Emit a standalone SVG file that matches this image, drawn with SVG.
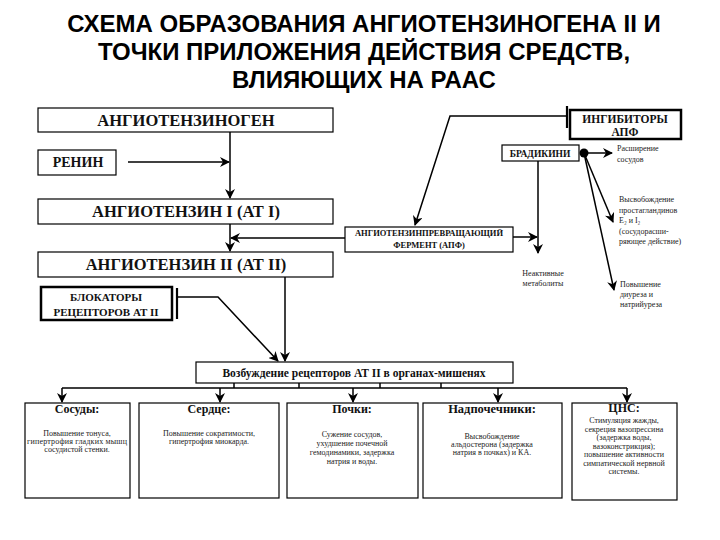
<svg xmlns="http://www.w3.org/2000/svg" width="720" height="540" viewBox="0 0 720 540">
<style>
.title{font-family:"Liberation Sans",Arial,sans-serif;font-weight:bold;font-size:24px;fill:#000;text-anchor:middle}
.bx{fill:#fff;stroke:#000;stroke-width:1.2}
.thick{fill:#fff;stroke:#000;stroke-width:2.5}
.lbl{font-family:"Liberation Serif","Times New Roman",serif;font-weight:bold;fill:#111;text-anchor:middle}
.sm{font-family:"Liberation Serif","Times New Roman",serif;font-size:8px;fill:#222}
.ctr{text-anchor:middle}
.ln{fill:none;stroke:#000;stroke-width:1.5}
.tb{fill:none;stroke:#000;stroke-width:2.2}
</style>
<defs>
<marker id="ah" viewBox="0 0 10 10" refX="9" refY="5" markerWidth="10" markerHeight="10" markerUnits="userSpaceOnUse" orient="auto">
<path d="M0,0 L10,5 L0,10 L3,5 z" fill="#000"/>
</marker>
</defs>
<rect width="720" height="540" fill="#fff"/>
<g id="title">
<text class="title" x="364" y="32">СХЕМА ОБРАЗОВАНИЯ АНГИОТЕНЗИНОГЕНА II И</text>
<text class="title" x="364" y="60">ТОЧКИ ПРИЛОЖЕНИЯ ДЕЙСТВИЯ СРЕДСТВ,</text>
<text class="title" x="364" y="88">ВЛИЯЮЩИХ НА РААС</text>
</g>
<g id="connectors">
<path class="ln" d="M128,162 H229" marker-end="url(#ah)"/>
<path class="ln" d="M230,132 V198" marker-end="url(#ah)"/>
<path class="ln" d="M230,224 V251" marker-end="url(#ah)"/>
<path class="ln" d="M345,238 H231" marker-end="url(#ah)"/>
<path class="ln" d="M285,277 V361" marker-end="url(#ah)"/>
<path class="ln" d="M177,297 H218 L278,361" marker-end="url(#ah)"/>
<path class="tb" d="M177,288 V319"/>
<path class="ln" d="M567,116 H450 L415,225" marker-end="url(#ah)"/>
<path class="tb" d="M567,106 V128"/>
<path class="ln" d="M513,237 H537" marker-end="url(#ah)"/>
<path class="ln" d="M538,161 V253" marker-end="url(#ah)"/>
<path class="ln" d="M584,153 H612" marker-end="url(#ah)"/>
<path class="ln" d="M584,153 L613,222" marker-end="url(#ah)"/>
<path class="ln" d="M584,153 L614,290" marker-end="url(#ah)"/>
<circle cx="584" cy="153" r="4.5" fill="#000"/>
<path class="ln" d="M62,388 H627 M234,383 V388 M299,383 V388 M380,383 V388 M441,383 V388"/>
<path class="ln" d="M62,388 V402" marker-end="url(#ah)"/>
<path class="ln" d="M220,388 V402" marker-end="url(#ah)"/>
<path class="ln" d="M353,388 V402" marker-end="url(#ah)"/>
<path class="ln" d="M498,388 V402" marker-end="url(#ah)"/>
<path class="ln" d="M627,388 V402" marker-end="url(#ah)"/>
</g>
<g id="angiotensinogen">
<rect class="bx" x="38" y="108" width="295" height="24"/>
<text class="lbl" x="186" y="126" font-size="16.5">АНГИОТЕНЗИНОГЕН</text>
</g>
<g id="renin">
<rect class="bx" x="38" y="150" width="78" height="25"/>
<text class="lbl" x="78" y="167" font-size="14">РЕНИН</text>
</g>
<g id="at1">
<rect class="bx" x="38" y="199" width="295" height="25"/>
<text class="lbl" x="186" y="217" font-size="16.5">АНГИОТЕНЗИН I  (АТ I)</text>
</g>
<g id="at2">
<rect class="bx" x="38" y="252" width="295" height="25"/>
<text class="lbl" x="186" y="270" font-size="16.5">АНГИОТЕНЗИН II  (АТ II)</text>
</g>
<g id="blockers">
<rect class="thick" x="41" y="287" width="131" height="33"/>
<text class="lbl" x="106" y="301" font-size="11">БЛОКАТОРЫ</text>
<text class="lbl" x="106" y="316" font-size="11">РЕЦЕПТОРОВ АТ II</text>
</g>
<g id="ace">
<rect class="bx" x="345" y="227" width="168" height="25"/>
<text class="lbl" x="429" y="236" font-size="8.5">АНГИОТЕНЗИНПРЕВРАЩАЮЩИЙ</text>
<text class="lbl" x="429" y="248" font-size="8.5">ФЕРМЕНТ (АПФ)</text>
</g>
<g id="ace-inhibitors">
<rect class="thick" x="570" y="110" width="111" height="29"/>
<text class="lbl" x="625" y="123" font-size="11.5">ИНГИБИТОРЫ</text>
<text class="lbl" x="625" y="136" font-size="11.5">АПФ</text>
</g>
<g id="bradykinin">
<rect class="bx" x="502" y="145" width="77" height="16"/>
<text class="lbl" x="540" y="157" font-size="9.5">БРАДИКИНИ</text>
</g>
<g id="inactive">
<text class="sm ctr" x="543" y="276" font-size="7.5">Неактивные</text>
<text class="sm ctr" x="543" y="286" font-size="7.5">метаболиты</text>
</g>
<g id="vasodilation">
<text class="sm" x="617" y="151" font-size="7.5">Расширение</text>
<text class="sm" x="617" y="162" font-size="7.5">сосудов</text>
</g>
<g id="prostaglandins">
<text class="sm" x="619" y="202" font-size="7.5">Высвобождение</text>
<text class="sm" x="619" y="212.5" font-size="7.5">простагландинов</text>
<text class="sm" x="619" y="223" font-size="7.5">Е₂ и I₂</text>
<text class="sm" x="619" y="233.5" font-size="7.5">(сосудорасши-</text>
<text class="sm" x="619" y="244" font-size="7.5">ряющее действие)</text>
</g>
<g id="diuresis">
<text class="sm" x="620" y="287" font-size="7.5">Повышение</text>
<text class="sm" x="620" y="297" font-size="7.5">диуреза и</text>
<text class="sm" x="620" y="307" font-size="7.5">натрийуреза</text>
</g>
<g id="receptors">
<rect class="bx" x="196" y="362" width="317" height="21"/>
<text class="lbl" x="354" y="376.5" font-size="11.5">Возбуждение рецепторов АТ II в органах-мишенях</text>
</g>
<g id="vessels">
<rect class="bx" x="25" y="403" width="105" height="95"/>
<text class="lbl" x="77" y="413" font-size="12">Сосуды:</text>
<text class="sm ctr" x="77" y="436">Повышение тонуса,</text>
<text class="sm ctr" x="77" y="444" textLength="100" lengthAdjust="spacing">гипертрофия гладких мышц</text>
<text class="sm ctr" x="77" y="452">сосудистой стенки.</text>
</g>
<g id="heart">
<rect class="bx" x="139" y="403" width="140" height="95"/>
<text class="lbl" x="209" y="413" font-size="12">Сердце:</text>
<text class="sm ctr" x="209" y="436">Повышение сократимости,</text>
<text class="sm ctr" x="209" y="444">гипертрофия миокарда.</text>
</g>
<g id="kidneys">
<rect class="bx" x="287" y="403" width="131" height="95"/>
<text class="lbl" x="352" y="413" font-size="12">Почки:</text>
<text class="sm ctr" x="352" y="437">Сужение сосудов,</text>
<text class="sm ctr" x="352" y="446">ухудшение почечной</text>
<text class="sm ctr" x="352" y="455">гемодинамики, задержка</text>
<text class="sm ctr" x="352" y="464">натрия и воды.</text>
</g>
<g id="adrenals">
<rect class="bx" x="423" y="403" width="139" height="95"/>
<text class="lbl" x="492" y="413" font-size="12.5">Надпочечники:</text>
<text class="sm ctr" x="492" y="439">Высвобождение</text>
<text class="sm ctr" x="492" y="447">альдостерона (задержка</text>
<text class="sm ctr" x="492" y="455">натрия в почках) и КА.</text>
</g>
<g id="cns">
<rect class="bx" x="572" y="403" width="105" height="97"/>
<text class="lbl" x="624" y="412" font-size="12">ЦНС:</text>
<text class="sm ctr" x="624" y="423">Стимуляция жажды,</text>
<text class="sm ctr" x="624" y="431.5">секреция вазопрессина</text>
<text class="sm ctr" x="624" y="440">(задержка воды,</text>
<text class="sm ctr" x="624" y="448.5">вазоконстрикция);</text>
<text class="sm ctr" x="624" y="457">повышение активности</text>
<text class="sm ctr" x="624" y="465.5">симпатической нервной</text>
<text class="sm ctr" x="624" y="474">системы.</text>
</g>
</svg>
